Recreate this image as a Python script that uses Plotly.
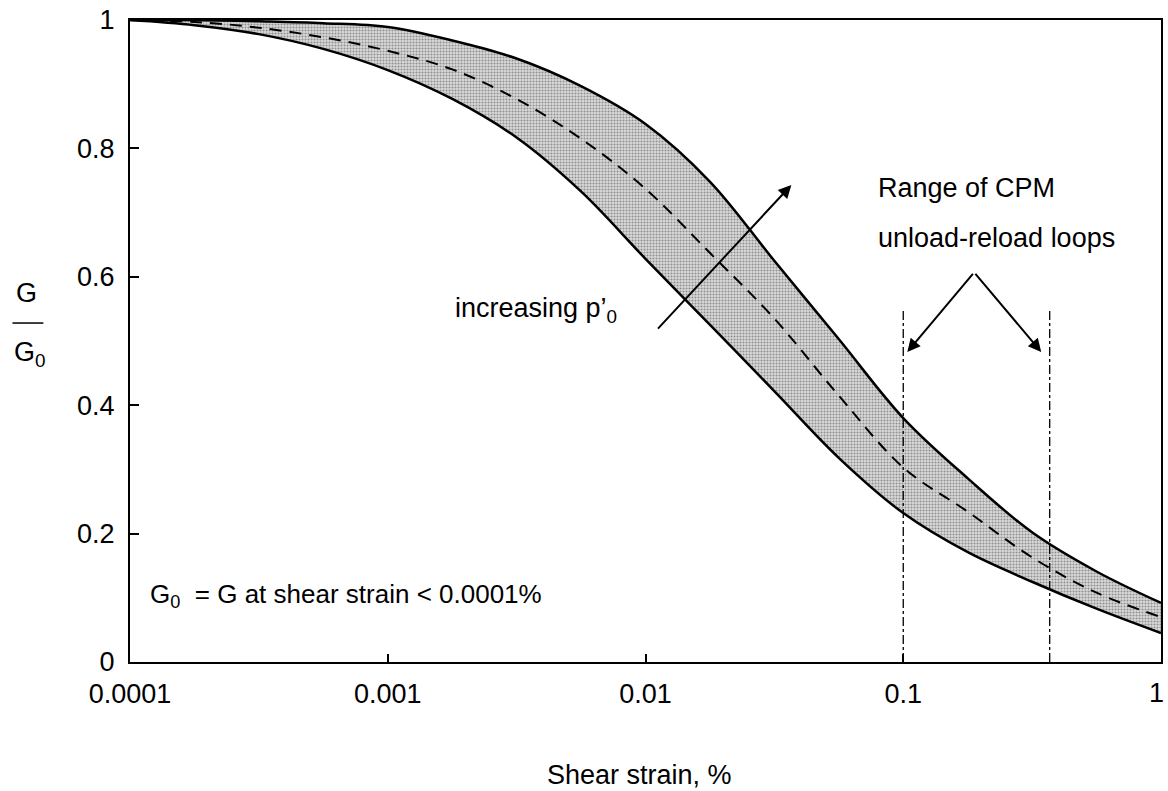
import numpy as np
import plotly.graph_objects as go

# Shear strain (%) sample points (quarter-decade spacing)
strain = [0.0001, 0.000178, 0.000316, 0.000562, 0.001, 0.00178, 0.00316, 0.00562,
          0.01, 0.0178, 0.0316, 0.0562, 0.1, 0.178, 0.316, 0.562, 1.0]

# G/G0 upper bound (high p'0)
upper = [1.0, 1.0, 0.998, 0.995, 0.989, 0.968, 0.940, 0.897,
         0.838, 0.748, 0.625, 0.503, 0.380, 0.286, 0.202, 0.141, 0.092]

# G/G0 lower bound (low p'0)
lower = [1.0, 0.992, 0.978, 0.955, 0.922, 0.877, 0.817, 0.733,
         0.628, 0.525, 0.422, 0.318, 0.232, 0.171, 0.125, 0.083, 0.045]

# G/G0 mean curve (dashed)
mean = [1.0, 0.997, 0.988, 0.973, 0.952, 0.923, 0.877, 0.815,
        0.737, 0.637, 0.535, 0.415, 0.303, 0.234, 0.163, 0.108, 0.070]

# Range of CPM unload-reload loops (strain, %)
cpm_range = [0.1, 0.37]
cpm_top = 0.55

x_ticks = [0.0001, 0.001, 0.01, 0.1, 1]
x_labels = ["0.0001", "0.001", "0.01", "0.1", "1"]
y_ticks = [0, 0.2, 0.4, 0.6, 0.8, 1]
y_labels = ["0", "0.2", "0.4", "0.6", "0.8", "1"]

FONT = "Liberation Sans, Arial, Helvetica, sans-serif"
FS = 27

fig = go.Figure()

# shaded band
fig.add_trace(go.Scatter(x=strain, y=lower, mode="lines", line=dict(width=0, shape="spline"),
                         showlegend=False, hoverinfo="skip"))
fig.add_trace(go.Scatter(x=strain, y=upper, mode="lines", line=dict(width=0, shape="spline"),
                         fill="tonexty",
                         fillpattern=dict(shape=".", bgcolor="#dadada", fgcolor="#454545",
                                          size=3, solidity=0.4),
                         showlegend=False, hoverinfo="skip"))
# bounding curves
fig.add_trace(go.Scatter(x=strain, y=upper, mode="lines",
                         line=dict(color="black", width=2.5, shape="spline"),
                         showlegend=False))
fig.add_trace(go.Scatter(x=strain, y=lower, mode="lines",
                         line=dict(color="black", width=2.5, shape="spline"),
                         showlegend=False))
fig.add_trace(go.Scatter(x=strain, y=mean, mode="lines",
                         line=dict(color="black", width=2, dash="12px,8px", shape="spline"),
                         showlegend=False))
# CPM range lines
for xv in cpm_range:
    fig.add_trace(go.Scatter(x=[xv, xv], y=[0, cpm_top], mode="lines",
                             line=dict(color="black", width=1.3, dash="dashdot"),
                             showlegend=False))

annotations = []
# increasing p'0 arrow
annotations.append(dict(x=np.log10(0.0368), y=0.743, ax=np.log10(0.01104), ay=0.517,
                        xref="x", yref="y", axref="x", ayref="y", text="",
                        showarrow=True, arrowhead=2, arrowsize=1.3, arrowwidth=2,
                        arrowcolor="black"))
# CPM arrows
for hx in [0.1037, 0.343]:
    annotations.append(dict(x=np.log10(hx), y=0.483, ax=np.log10(0.1884), ay=0.607,
                            xref="x", yref="y", axref="x", ayref="y", text="",
                            showarrow=True, arrowhead=2, arrowsize=1.3, arrowwidth=2,
                            arrowcolor="black"))

annotations += [
    # last x tick label, kept inside the page edge
    dict(text=x_labels[-1], x=1.0, y=0, xref="paper", yref="paper",
         xanchor="right", yanchor="top", xshift=5, yshift=-14, showarrow=False,
         font=dict(size=FS)),
    dict(text="increasing p’<sub>0</sub>", x=0.474, y=0.548, xref="paper", yref="paper",
         xanchor="right", yanchor="middle", showarrow=False, font=dict(size=FS)),
    dict(text="Range of CPM", x=0.724, y=0.738, xref="paper", yref="paper",
         xanchor="left", yanchor="middle", showarrow=False, font=dict(size=FS)),
    dict(text="unload-reload loops", x=0.724, y=0.660, xref="paper", yref="paper",
         xanchor="left", yanchor="middle", showarrow=False, font=dict(size=FS)),
    dict(text="G<sub>0</sub>  = G at shear strain &lt; 0.0001%", x=0.0174, y=0.104,
         xref="paper", yref="paper", xanchor="left", yanchor="middle",
         showarrow=False, font=dict(size=26)),
    dict(text="Shear strain, %", x=0.494, y=-0.176, xref="paper", yref="paper",
         xanchor="center", yanchor="middle", showarrow=False, font=dict(size=FS)),
    dict(text="G", x=-0.1, y=0.575, xref="paper", yref="paper",
         xanchor="center", yanchor="middle", showarrow=False, font=dict(size=FS)),
    dict(text="G<sub>0</sub>", x=-0.097, y=0.48, xref="paper", yref="paper",
         xanchor="center", yanchor="middle", showarrow=False, font=dict(size=FS)),
]

fig.update_layout(
    width=1168, height=791,
    margin=dict(l=130, r=5, t=20, b=129),
    paper_bgcolor="white", plot_bgcolor="white",
    font=dict(family=FONT, size=FS, color="black"),
    annotations=annotations,
    shapes=[dict(type="line", xref="paper", yref="paper", x0=-0.114, x1=-0.084,
                 y0=0.528, y1=0.528, line=dict(color="black", width=1.5))],
    xaxis=dict(type="log", range=[-4, 0], tickvals=x_ticks,
               ticktext=x_labels[:-1] + [""],
               showline=True, linecolor="black", linewidth=2, mirror=True,
               ticks="inside", ticklen=8, tickwidth=1.5, tickcolor="black",
               showgrid=False, zeroline=False, ticklabelstandoff=7),
    yaxis=dict(range=[0, 1], tickvals=y_ticks, ticktext=y_labels,
               showline=True, linecolor="black", linewidth=2, mirror=True,
               ticks="inside", ticklen=9, tickwidth=1.5, tickcolor="black",
               showgrid=False, zeroline=False, ticklabelstandoff=8),
)

fig.write_html("out.html")
